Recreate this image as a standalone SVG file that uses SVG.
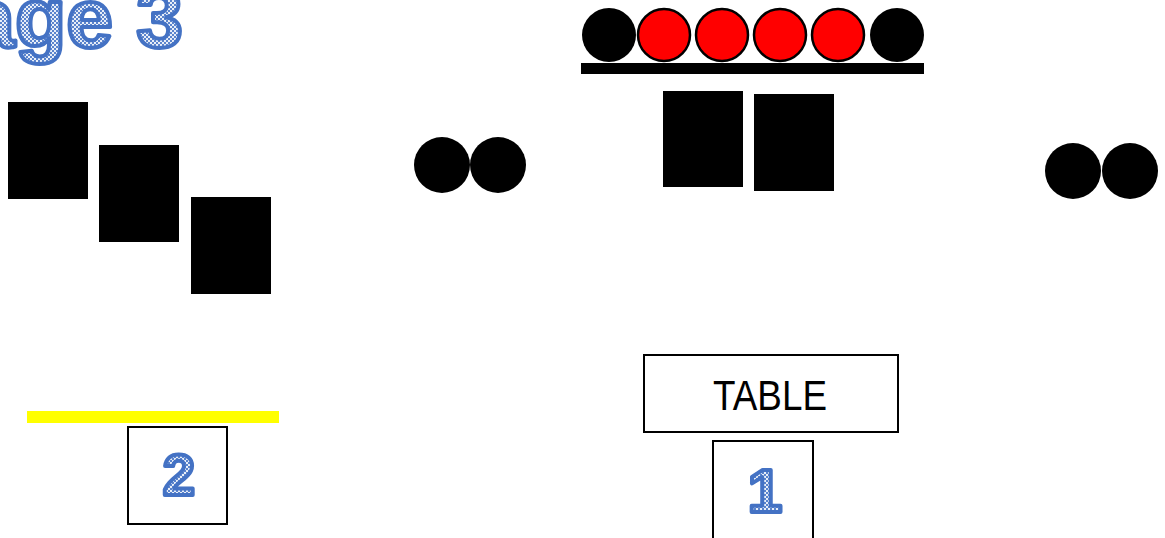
<svg xmlns="http://www.w3.org/2000/svg" width="1165" height="538" viewBox="0 0 1165 538">
<style>
.blk{fill:#000}
.red{fill:#ff0000;stroke:#000;stroke-width:2.5}
.box{fill:#fff;stroke:#000;stroke-width:2}
.fancy{font-family:"Liberation Sans",Arial,sans-serif;font-weight:bold;fill:url(#chk);stroke:#4472C4;stroke-width:4;stroke-linejoin:round}
.lbl{font-family:"Liberation Sans",Arial,sans-serif;fill:#000}
</style>
<defs>
<pattern id="chk" width="4" height="4" patternUnits="userSpaceOnUse">
<rect width="4" height="4" fill="#5b84cc"/>
<rect x="0" y="0" width="2" height="2" fill="#e8eef8"/>
<rect x="2" y="2" width="2" height="2" fill="#e8eef8"/>
</pattern>
</defs>
<g id="title"><text class="fancy" x="183" y="47" font-size="84" text-anchor="end">Stage 3</text></g>
<g id="cards-left">
<rect class="blk" x="8" y="102" width="80" height="97"/>
<rect class="blk" x="99" y="145" width="80" height="97"/>
<rect class="blk" x="191" y="197" width="80" height="97"/>
</g>
<g id="dots-left"><circle class="blk" cx="442" cy="165" r="28"/><circle class="blk" cx="498" cy="165" r="28"/></g>
<g id="dots-right"><circle class="blk" cx="1073" cy="171" r="28"/><circle class="blk" cx="1130" cy="171" r="28"/></g>
<g id="row">
<circle class="blk" cx="609" cy="35" r="27"/>
<circle class="red" cx="664" cy="35" r="26"/>
<circle class="red" cx="722" cy="35" r="26"/>
<circle class="red" cx="780" cy="35" r="26"/>
<circle class="red" cx="838" cy="35" r="26"/>
<circle class="blk" cx="897" cy="35" r="27"/>
<rect class="blk" x="581" y="63" width="343" height="11"/>
</g>
<g id="cards-mid">
<rect class="blk" x="663" y="91" width="80" height="96"/>
<rect class="blk" x="754" y="94" width="80" height="97"/>
</g>
<g id="yellow-bar"><rect x="27" y="411" width="252" height="12" fill="#ffff00"/></g>
<g id="box2"><rect class="box" x="128" y="427" width="99" height="97"/><text class="fancy" x="179" y="495" font-size="58" text-anchor="middle">2</text></g>
<g id="table"><rect class="box" x="644" y="355" width="254" height="77"/><text class="lbl" x="770" y="410" font-size="42" text-anchor="middle" textLength="114" lengthAdjust="spacingAndGlyphs">TABLE</text></g>
<g id="box1"><rect class="box" x="713" y="441" width="100" height="100"/><text class="fancy" x="765" y="512" font-size="62" text-anchor="middle">1</text></g>
<g id="connectors"/>
</svg>
